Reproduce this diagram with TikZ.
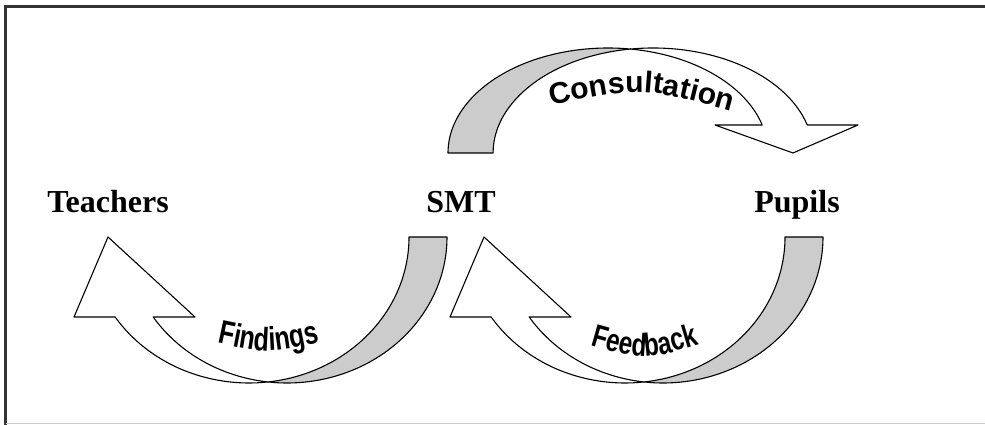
\documentclass[tikz,border=0pt]{standalone}
\usepackage{fontspec}
\setmainfont{Liberation Serif}
\newfontfamily\arialfont{Liberation Sans}
\newfontfamily\wafont{Liberation Sans}[FakeStretch=0.76]
\usetikzlibrary{decorations.text}
\definecolor{bandgray}{HTML}{CCCCCC}
\definecolor{framegray}{HTML}{333333}
\tikzset{
  band/.style={draw=black, line width=1.1pt, line join=round},
  backband/.style={band, fill=bandgray},
  frontband/.style={band, fill=white},
  lbl/.style={font=\fontsize{32}{36}\selectfont\bfseries, anchor=base, inner sep=0pt},
}
\begin{document}
\begin{tikzpicture}[x=1pt,y=1pt]
\useasboundingbox (0,0) rectangle (985,425);
% frame
\draw[framegray, line width=2.5pt] (5.5,0) -- (5.5,418.5) -- (985,418.5);
\draw[bandgray, line width=1pt] (5.5,1.5) -- (985,1.5);

% Consultation arrow (top)
\path[backband] (448,272) arc[start angle=180, end angle=81.9, x radius=160, y radius=105]
  arc[start angle=98.1, end angle=180, x radius=160, y radius=105] -- cycle;
\path[frontband] (630.5,375.95) arc[start angle=98.1, end angle=15.47, x radius=160, y radius=105]
  -- (858,300) -- (793,272) -- (715,300) -- (762.2,300)
  arc[start angle=15.47, end angle=81.9, x radius=160, y radius=105] -- cycle;

% Findings arrow (bottom left)
\path[backband] (447,188) arc[start angle=0, end angle=-96.82, x radius=160, y radius=146]
  arc[start angle=-83.18, end angle=0, x radius=160, y radius=146] -- cycle;
\path[frontband] (268,43.04) arc[start angle=-83.18, end angle=-146.78, x radius=160, y radius=146]
  -- (74,108) -- (108,188) -- (195,108) -- (153.2,108)
  arc[start angle=-146.78, end angle=-96.82, x radius=160, y radius=146] -- cycle;

% Feedback arrow (bottom right)
\begin{scope}[xshift=376]
\path[backband] (447,188) arc[start angle=0, end angle=-96.82, x radius=160, y radius=146]
  arc[start angle=-83.18, end angle=0, x radius=160, y radius=146] -- cycle;
\path[frontband] (268,43.04) arc[start angle=-83.18, end angle=-146.78, x radius=160, y radius=146]
  -- (74,108) -- (108,188) -- (195,108) -- (153.2,108)
  arc[start angle=-146.78, end angle=-96.82, x radius=160, y radius=146] -- cycle;
\end{scope}

% curved labels
\path[decorate, decoration={text along path, text align=center,
  text={|\arialfont\bfseries\fontsize{30}{34}\selectfont|Consultation}}]
  (541,317) .. controls (640,339) .. (742,311);
\path[decorate, decoration={text along path, text align=center,
  text={|\wafont\bfseries\fontsize{33}{36}\selectfont|Findings}}]
  (208,84) .. controls (268,71) .. (329,85);
\path[decorate, decoration={text along path, text align=center,
  text={|\wafont\bfseries\fontsize{32}{36}\selectfont|Feedback}}]
  (586,81) .. controls (645,64) .. (704,82);

% main labels
\node[lbl] (teachers) at (108,212) {Teachers};
\node[lbl] (smt) at (461,212) {SMT};
\node[lbl] (pupils) at (797,212) {Pupils};
\end{tikzpicture}
\end{document}
